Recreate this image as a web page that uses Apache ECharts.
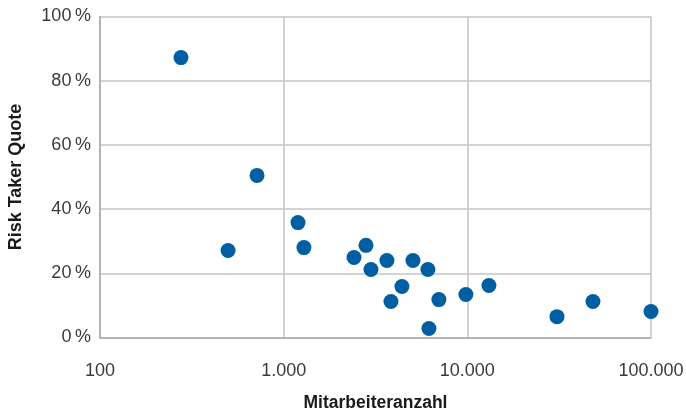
<!DOCTYPE html>
<html>
<head>
<meta charset="utf-8">
<script src="https://cdn.jsdelivr.net/npm/echarts@6/dist/echarts.min.js"></script>
<style>html,body{margin:0;padding:0;background:#fff;}#c{width:686px;height:412px;}</style>
</head>
<body>
<div id="c"></div>
<script>
const employees = [276, 498, 716, 1197, 1289, 2415, 2806, 2987, 3650, 3838, 4405, 5058, 6100, 6180, 7000, 9820, 13110, 30760, 48300, 100000];
const riskTakerQuote = [87.2, 27.1, 50.5, 35.8, 28.0, 24.9, 28.7, 21.2, 24.0, 11.2, 15.9, 24.0, 21.2, 2.8, 11.8, 13.4, 16.2, 6.5, 11.2, 8.1];
const xTickValues = [100, 1000, 10000, 100000];
const xTickLabels = ['100', '1.000', '10.000', '100.000'];
const yTickValues = [0, 20, 40, 60, 80, 100];
const yTickLabels = ['0\u2009%', '20\u2009%', '40\u2009%', '60\u2009%', '80\u2009%', '100\u2009%'];
const xTitle = 'Mitarbeiteranzahl';
const yTitle = 'Risk Taker Quote';

const chart = echarts.init(document.getElementById('c'));
const font = "'Liberation Sans', Arial, sans-serif";
chart.setOption({
  animation: false,
  grid: {left: 100, right: 35, top: 16.5, bottom: 74.5, containLabel: false, outerBoundsMode: 'none'},
  xAxis: {
    type: 'log', logBase: 10, min: 100, max: 100000,
    name: xTitle, nameLocation: 'middle', nameGap: 57,
    nameTextStyle: {fontFamily: font, fontSize: 17.5, fontWeight: 'bold', color: '#1a1a1a'},
    axisLine: {show: true, lineStyle: {color: '#aaaaaa', width: 1.5}},
    axisTick: {show: false},
    splitLine: {show: true, lineStyle: {color: '#c4c4c4', width: 1.5}},
    axisLabel: {
      margin: 25, fontFamily: font, fontSize: 18, color: '#3a3a3a',
      formatter: function (v) { const i = xTickValues.findIndex(t => Math.abs(t - v) / t < 1e-6); return i >= 0 ? xTickLabels[i] : ''; }
    }
  },
  yAxis: {
    type: 'value', min: 0, max: 100, interval: 20,
    name: yTitle, nameLocation: 'middle', nameGap: 75, nameRotate: 90,
    nameTextStyle: {fontFamily: font, fontSize: 18, fontWeight: 'bold', color: '#1a1a1a'},
    axisLine: {show: true, lineStyle: {color: '#aaaaaa', width: 1.5}},
    axisTick: {show: false},
    splitLine: {show: true, lineStyle: {color: '#c4c4c4', width: 1.5}},
    axisLabel: {
      margin: 9, fontFamily: font, fontSize: 18, color: '#3a3a3a',
      formatter: function (v) { const i = yTickValues.indexOf(v); return i >= 0 ? yTickLabels[i] : ''; }
    }
  },
  series: [{
    type: 'scatter',
    data: employees.map((e, i) => [e, riskTakerQuote[i]]),
    symbolSize: 15,
    itemStyle: {color: '#005fa3', opacity: 1},
    clip: false
  }]
});
</script>
</body>
</html>
